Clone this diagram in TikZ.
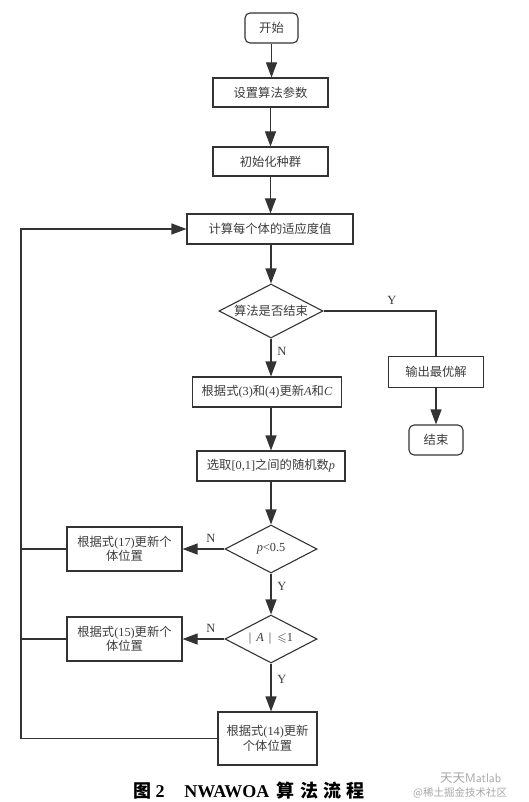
\documentclass[tikz,border=0pt]{standalone}
\usepackage{amssymb}
\usepackage{fontspec}
\setmainfont{Liberation Serif}
\newfontfamily\cjk{Noto Sans CJK SC}
\usetikzlibrary{shapes.geometric,arrows.meta}
\newcommand\lat[1]{{\rmfamily #1}}
\definecolor{ln}{HTML}{333333}
\definecolor{tx}{HTML}{3C3C3C}
\tikzset{
  base/.style={draw=ln,line width=1.1pt,text=tx,font=\cjk\fontsize{12.3}{14.5}\selectfont,inner sep=0pt,align=center},
  proc/.style={base,rectangle},
  term/.style={base,rectangle,rounded corners=5pt},
  dec/.style={base,diamond,aspect=1.93},
  arr/.style={draw=ln,line width=1.1pt,-{Triangle[length=15pt,width=11pt]}},
  ln/.style={draw=ln,line width=1.1pt},
  lab/.style={text=tx,font=\rmfamily\fontsize{12.5}{14}\selectfont,inner sep=0pt}
}
\begin{document}
\begin{tikzpicture}[x=1pt,y=-1pt]
\useasboundingbox (0,0) rectangle (529,802);
\node[term,minimum width=53pt,minimum height=30pt] (start) at (271.5,28) {开始};
\node[proc,minimum width=115pt,minimum height=29pt] (set) at (270.5,92.5) {设置算法参数};
\node[proc,minimum width=115pt,minimum height=29pt] (init) at (270.5,161.5) {初始化种群};
\node[proc,minimum width=166pt,minimum height=30pt] (calc) at (270,229) {计算每个体的适应度值};
\node[dec,minimum width=104pt,minimum height=54pt] (d1) at (271,311) {算法是否结束};
\node[proc,minimum width=95pt,minimum height=31pt] (out) at (436,372) {输出最优解};
\node[term,minimum width=54pt,minimum height=30pt] (end) at (436,440) {结束};
\node[proc,minimum width=149pt,minimum height=30pt] (upd) at (267,392) {根据式\lat{(3)}和\lat{(4)}更新\lat{\textit{A}}和\lat{\textit{C}}};
\node[proc,minimum width=148pt,minimum height=30pt] (rand) at (271,466) {选取\lat{[0,1]}之间的随机数\lat{\textit{p}}};
\node[dec,minimum width=92pt,minimum height=48pt] (d2) at (271,549) {\lat{\textit{p}<0.5}};
\node[proc,minimum width=115pt,minimum height=44pt] (b17) at (124.5,549) {根据式\lat{(17)}更新个\\体位置};
\node[dec,minimum width=92pt,minimum height=48pt] (d3) at (271,639) {\lat{\textbar\hspace{0.4em}\textit{A}\hspace{0.4em}\textbar\hspace{0.5em}$\leqslant$1}};
\node[proc,minimum width=115pt,minimum height=44pt] (b15) at (124.5,639) {根据式\lat{(15)}更新个\\体位置};
\node[proc,minimum width=99pt,minimum height=53pt] (b14) at (267.5,738.5) {根据式\lat{(14)}更新\\个体位置};
\coordinate (lx) at (21,0);
% connectors
\draw[arr] (start.south) -- (start.south |- set.north);
\draw[arr] (set.south) -- (set.south |- init.north);
\draw[arr] (init.south) -- (init.south |- calc.north);
\draw[arr] (d1.north |- calc.south) -- (d1.north);
\draw[arr] (d1.south) -- (d1.south |- upd.north);
\draw[ln] (d1.east) -| (out.north);
\draw[arr] (out.south) -- (end.north);
\draw[arr] (d1.south |- upd.south) -- (d1.south |- rand.north);
\draw[arr] (rand.south -| d2.north) -- (d2.north);
\draw[arr] (d2.west) -- (b17.east);
\draw[arr] (d2.south) -- (d3.north);
\draw[arr] (d3.west) -- (b15.east);
\draw[arr] (d3.south) -- (d3.south |- b14.north);
\draw[ln] (b17.west) -- (b17.west -| lx);
\draw[ln] (b15.west) -- (b15.west -| lx);
\draw[arr] (b14.west) -- (b14.west -| lx) |- (calc.west);
% labels
\node[lab] (ly1) at (392,300) {Y};
\node[lab] (ln1) at (282,351) {N};
\node[lab] (ln2) at (211,538) {N};
\node[lab] (ly2) at (282,586) {Y};
\node[lab] (ln3) at (211,628) {N};
\node[lab] (ly3) at (282,679) {Y};
% caption
\node[text=black,inner sep=0pt,font=\fontsize{18}{21}\selectfont] (cap) at (249,791)
  {{\cjk\bfseries 图}\ \textbf{2}\hspace{1.1em}\textbf{NWAWOA}\hspace{0.4em}{\cjk\bfseries 算\hspace{0.3em}法\hspace{0.3em}流\hspace{0.3em}程}};
\node[text=black!35,inner sep=0pt,font=\sffamily\fontsize{12.5}{14}\selectfont,anchor=west] (wm1) at (440,778) {{\cjk 天天}Matlab};
\node[text=black!35,inner sep=0pt,font=\cjk\fontsize{10.5}{12}\selectfont,anchor=west] (wm2) at (413,793) {@稀土掘金技术社区};
\end{tikzpicture}
\end{document}
